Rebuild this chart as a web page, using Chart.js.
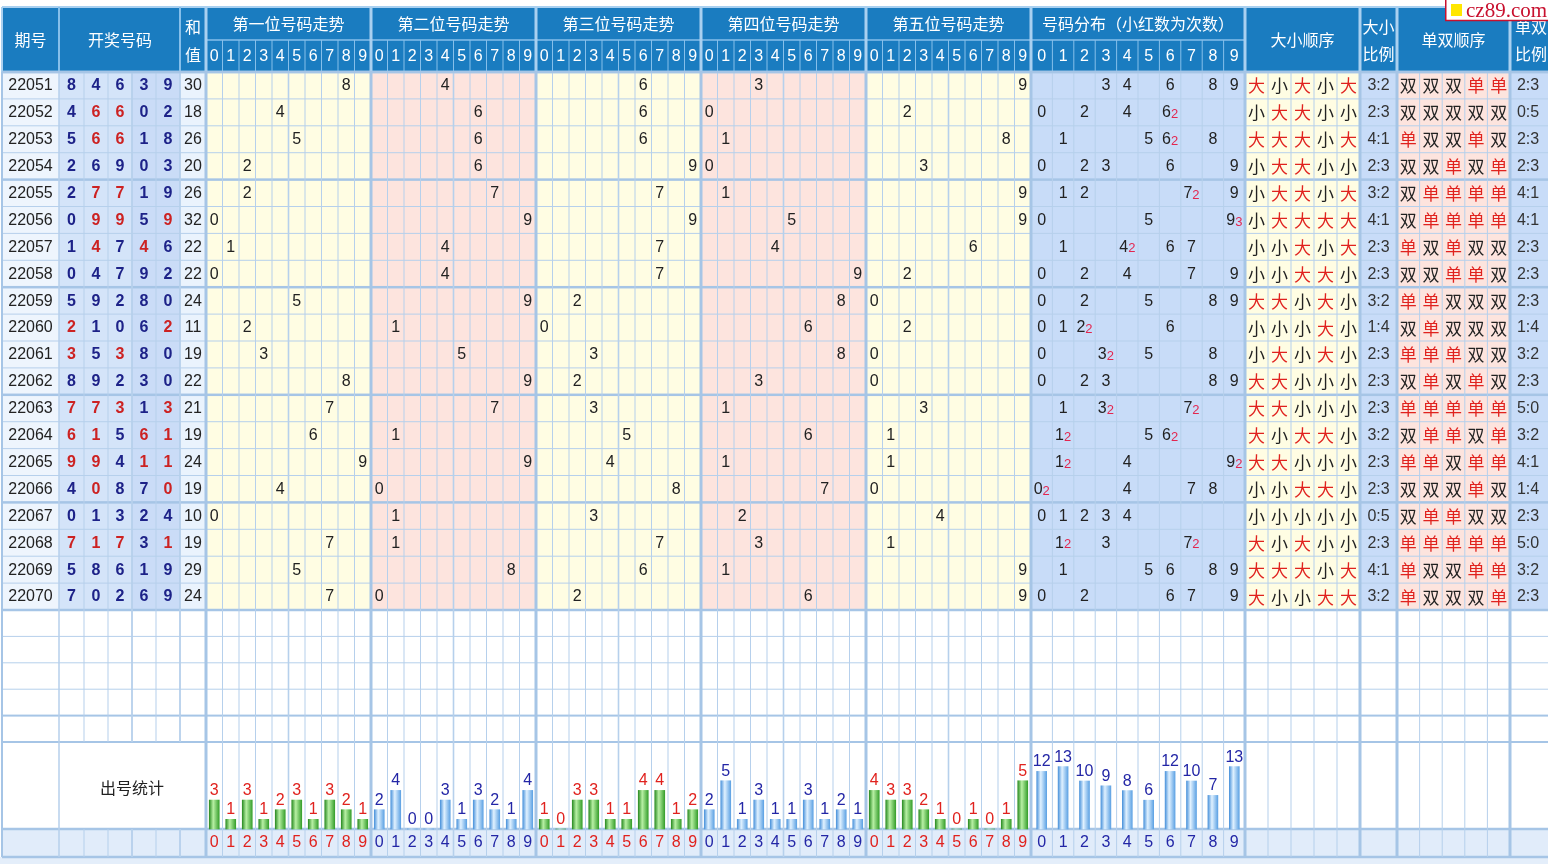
<!DOCTYPE html>
<html lang="zh-CN">
<head>
<meta charset="utf-8">
<title>五位号码走势</title>
<script src="https://cdn.jsdelivr.net/npm/chart.js@4.4.1/dist/chart.umd.min.js"></script>
<style>
  html, body { margin: 0; padding: 0; background: #fff; overflow: hidden; }
  canvas { display: block; }
</style>
</head>
<body>
<canvas id="board" width="1548" height="864"></canvas>
<script>
// draws
const issues = ['22051', '22052', '22053', '22054', '22055', '22056', '22057', '22058', '22059', '22060',
                '22061', '22062', '22063', '22064', '22065', '22066', '22067', '22068', '22069', '22070']
const pos1 = [8, 4, 5, 2, 2, 0, 1, 0, 5, 2, 3, 8, 7, 6, 9, 4, 0, 7, 5, 7]
const pos2 = [4, 6, 6, 6, 7, 9, 4, 4, 9, 1, 5, 9, 7, 1, 9, 0, 1, 1, 8, 0]
const pos3 = [6, 6, 6, 9, 7, 9, 7, 7, 2, 0, 3, 2, 3, 5, 4, 8, 3, 7, 6, 2]
const pos4 = [3, 0, 1, 0, 1, 5, 4, 9, 8, 6, 8, 3, 1, 6, 1, 7, 2, 3, 1, 6]
const pos5 = [9, 2, 8, 3, 9, 9, 6, 2, 0, 2, 0, 0, 3, 1, 1, 0, 4, 1, 9, 9]
const sums = [30, 18, 26, 20, 26, 32, 22, 22, 24, 11, 19, 22, 21, 19, 24, 19, 10, 19, 29, 24]

// 出号统计 row
const cnt1 = [3, 1, 3, 1, 2, 3, 1, 3, 2, 1]
const cnt2 = [2, 4, 0, 0, 3, 1, 3, 2, 1, 4]
const cnt3 = [1, 0, 3, 3, 1, 1, 4, 4, 1, 2]
const cnt4 = [2, 5, 1, 3, 1, 1, 3, 1, 2, 1]
const cnt5 = [4, 3, 3, 2, 1, 0, 1, 0, 1, 5]
const cntAll = [12, 13, 10, 9, 8, 6, 12, 10, 7, 13]

const digitLabels = ['0', '1', '2', '3', '4', '5', '6', '7', '8', '9']
const trendTitles = ['第一位号码走势', '第二位号码走势', '第三位号码走势', '第四位号码走势', '第五位号码走势']

const positions = [pos1, pos2, pos3, pos4, pos5]
const posCounts = [cnt1, cnt2, cnt3, cnt4, cnt5]

// layout, in reference pixels (mapped through the chart's x / y scales)
const W = 1548, H = 864
const TOP = 7, HEAD_MID = 40, BODY_TOP = 72, ROW_H = 26.9, EMPTY_H = 26.4
const BODY_BOTTOM = BODY_TOP + issues.length * ROW_H
const STAT_TOP = BODY_BOTTOM + 5 * EMPTY_H
const STAT_BASE = 829, FOOT_BOTTOM = 857
const NUM_X = [59, 84, 108, 132, 156, 180]
const TREND_X0 = 206, BLOCK_W = 165, CELL_W = 16.5
const DIST_X0 = 1031, DIST_W = 21.4
const BS_X0 = 1245, BS_W = 23
const BSR_X0 = 1360
const OE_X0 = 1397, OE_W = 22.6
const OER_X0 = 1510
const POS_UNIT = 9.65, DIST_UNIT = 4.8

const trendCenter = (b, d) => TREND_X0 + b * BLOCK_W + (d + 0.5) * CELL_W
const distCenter = d => DIST_X0 + (d + 0.5) * DIST_W

const HEAD = '#1a7cc0'
const HEAD_LINE = '#86bfea'
const HEAD_THICK = '#a9d0f0'
const GRID = '#b6d0ec'
const GRID_THICK = '#a6c5e6'
const YEL = '#fffde3'
const PINK = '#fde4de'
const BLUE_CELL = '#c8dcf8'
const RED = '#e0221e'
const NAVY = '#1d2288'
const STAT_BLUE = '#2326a6'

const NUM_FONT = '16px "Liberation Sans", Arial, sans-serif'
const NUM_BOLD = 'bold 16px "Liberation Sans", Arial, sans-serif'
const SMALL_FONT = '13px "Liberation Sans", Arial, sans-serif'
const CJK_FONT = '16px "Noto Sans CJK SC", sans-serif'
const CJK_CELL = '17px "Noto Sans CJK SC", sans-serif'

function barGradient(green) {
  const flat = green ? '#47a83a' : '#7ab6ea'
  return (c) => {
    const chart = c.chart
    const xs = chart.scales.x
    if (c.type !== 'data' || !xs || !c.raw) return flat
    const cx = xs.getPixelForValue(c.raw.x)
    if (!isFinite(cx)) return flat
    const g = chart.ctx.createLinearGradient(cx - 5, 0, cx + 5, 0)
    if (green) {
      g.addColorStop(0, '#2e8f26')
      g.addColorStop(0.4, '#b8f0a4')
      g.addColorStop(1, '#38a02e')
    } else {
      g.addColorStop(0, '#4e95dc')
      g.addColorStop(0.4, '#e0f1ff')
      g.addColorStop(1, '#5fa3e4')
    }
    return g
  }
}

const tablePlugin = {
  id: 'table',
  beforeDatasetsDraw(chart) {
    const ctx = chart.ctx
    const xs = chart.scales.x, ys = chart.scales.y
    const X = v => xs.getPixelForValue(v)
    const Y = v => ys.getPixelForValue(v)
    const rect = (x0, y0, x1, y1, color) => {
      ctx.fillStyle = color
      ctx.fillRect(X(x0), Y(y0), X(x1) - X(x0), Y(y1) - Y(y0))
    }
    const vline = (x, y0, y1, w, color) => {
      ctx.fillStyle = color
      ctx.fillRect(X(x) - w / 2, Y(y0), w, Y(y1) - Y(y0))
    }
    const hline = (x0, x1, y, w, color) => {
      ctx.fillStyle = color
      ctx.fillRect(X(x0), Y(y) - w / 2, X(x1) - X(x0), w)
    }
    const text = (s, x, y, font, color) => {
      ctx.font = font
      ctx.fillStyle = color
      ctx.textAlign = 'center'
      ctx.textBaseline = 'middle'
      ctx.fillText(s, X(x), Y(y))
    }

    ctx.save()

    // header
    rect(2, TOP, W, BODY_TOP, HEAD)

    // body backgrounds
    rect(2, BODY_TOP, 59, BODY_BOTTOM, '#eef5fd')
    rect(59, BODY_TOP, 132, BODY_BOTTOM, '#d4e4f9')
    rect(132, BODY_TOP, 180, BODY_BOTTOM, '#cadcf7')
    rect(180, BODY_TOP, TREND_X0, BODY_BOTTOM, '#eaf3fd')
    for (let b = 0; b < 5; b++) {
      const x0 = TREND_X0 + b * BLOCK_W
      rect(x0, BODY_TOP, x0 + BLOCK_W, BODY_BOTTOM, b % 2 === 0 ? YEL : PINK)
    }
    rect(DIST_X0, BODY_TOP, BS_X0, BODY_BOTTOM, BLUE_CELL)
    rect(BS_X0, BODY_TOP, BSR_X0, BODY_BOTTOM, YEL)
    rect(BSR_X0, BODY_TOP, OE_X0, BODY_BOTTOM, BLUE_CELL)
    rect(OE_X0, BODY_TOP, OER_X0, BODY_BOTTOM, PINK)
    rect(OER_X0, BODY_TOP, W, BODY_BOTTOM, BLUE_CELL)

    // footer strip
    rect(2, STAT_BASE, W, FOOT_BOTTOM, '#e1ecfa')
    rect(0, FOOT_BOTTOM, W, H, '#e4eefa')

    // body horizontal lines
    for (let i = 0; i <= issues.length; i++) {
      const thick = i % 4 === 0
      hline(2, W, BODY_TOP + i * ROW_H, thick ? 2.5 : 1, thick ? GRID_THICK : GRID)
    }
    for (let k = 1; k <= 5; k++) {
      const thick = k >= 4
      hline(2, W, BODY_BOTTOM + k * EMPTY_H, thick ? 2 : 1, thick ? GRID_THICK : GRID)
    }
    hline(2, W, STAT_BASE, 2.5, GRID_THICK)
    hline(2, W, FOOT_BOTTOM, 2.5, GRID_THICK)

    // body vertical lines
    const yB = BODY_TOP, yE = FOOT_BOTTOM
    vline(2, yB, yE, 2, GRID_THICK)
    vline(59, yB, yE, 1.5, GRID)
    NUM_X.slice(1).forEach(x => {
      const w = x === 132 || x === 180 ? 1.8 : 1
      vline(x, yB, STAT_TOP, w, GRID)
      vline(x, STAT_BASE, yE, w, GRID)
    })
    for (let b = 0; b < 5; b++) {
      const x0 = TREND_X0 + b * BLOCK_W
      for (let d = 1; d < 10; d++) vline(x0 + d * CELL_W, yB, yE, d === 5 ? 1.6 : 1, GRID)
    }
    for (let d = 1; d < 10; d++) vline(DIST_X0 + d * DIST_W, yB, yE, 1, GRID)
    for (let d = 1; d < 5; d++) vline(BS_X0 + d * BS_W, yB, yE, 1, GRID)
    for (let d = 1; d < 5; d++) vline(OE_X0 + d * OE_W, yB, yE, 1, GRID)
    const majors = [TREND_X0, TREND_X0 + BLOCK_W, TREND_X0 + 2 * BLOCK_W, TREND_X0 + 3 * BLOCK_W,
                    TREND_X0 + 4 * BLOCK_W, DIST_X0, BS_X0, BSR_X0, OE_X0, OER_X0]
    majors.forEach(x => vline(x, yB, yE, 3, GRID_THICK))

    // header lines
    hline(2, W, TOP, 2, HEAD_THICK)
    vline(2, TOP, BODY_TOP, 2, HEAD_THICK)
    hline(TREND_X0, BS_X0, HEAD_MID, 1.5, HEAD_LINE)
    vline(59, TOP, BODY_TOP, 2, HEAD_LINE)
    vline(180, TOP, BODY_TOP, 2, HEAD_LINE)
    for (let b = 0; b < 5; b++) {
      for (let d = 1; d < 10; d++) vline(TREND_X0 + b * BLOCK_W + d * CELL_W, HEAD_MID, BODY_TOP, 1, HEAD_LINE)
    }
    for (let d = 1; d < 10; d++) vline(DIST_X0 + d * DIST_W, HEAD_MID, BODY_TOP, 1, HEAD_LINE)
    majors.forEach(x => vline(x, TOP, BODY_TOP, 3, HEAD_THICK))
    hline(2, W, BODY_TOP, 2.5, GRID_THICK)

    // header text
    text('期号', 30.5, HEAD_MID, CJK_FONT, '#fff')
    text('开奖号码', 120, HEAD_MID, CJK_FONT, '#fff')
    text('和', 193, 27, CJK_FONT, '#fff')
    text('值', 193, 55, CJK_FONT, '#fff')
    trendTitles.forEach((t, b) => {
      text(t, TREND_X0 + (b + 0.5) * BLOCK_W, 24, CJK_FONT, '#fff')
      digitLabels.forEach((s, d) => text(s, trendCenter(b, d), 57, NUM_FONT, '#fff'))
    })
    text('号码分布（小红数为次数）', (DIST_X0 + BS_X0) / 2, 24, CJK_FONT, '#fff')
    digitLabels.forEach((s, d) => text(s, distCenter(d), 57, NUM_FONT, '#fff'))
    text('大小顺序', (BS_X0 + BSR_X0) / 2, HEAD_MID, CJK_FONT, '#fff')
    text('大小', (BSR_X0 + OE_X0) / 2, 27, CJK_FONT, '#fff')
    text('比例', (BSR_X0 + OE_X0) / 2, 54, CJK_FONT, '#fff')
    text('单双顺序', (OE_X0 + OER_X0) / 2, HEAD_MID, CJK_FONT, '#fff')
    text('单双', 1531, 27, CJK_FONT, '#fff')
    text('比例', 1531, 54, CJK_FONT, '#fff')

    // rows
    issues.forEach((issue, i) => {
      const yc = BODY_TOP + (i + 0.5) * ROW_H + 0.5
      const draw = positions.map(p => p[i])
      const counts = Array(10).fill(0)
      draw.forEach(v => counts[v]++)

      text(issue, 30.5, yc, NUM_FONT, '#222')
      draw.forEach((v, k) => {
        const x = (NUM_X[k] + NUM_X[k + 1]) / 2
        text(String(v), x, yc, NUM_BOLD, counts[v] > 1 ? '#cc2222' : NAVY)
      })
      text(String(sums[i]), 193, yc, NUM_FONT, '#222')

      draw.forEach((v, b) => text(String(v), trendCenter(b, v), yc, NUM_FONT, '#222'))

      counts.forEach((n, d) => {
        if (!n) return
        ctx.textBaseline = 'middle'
        ctx.textAlign = 'left'
        ctx.font = NUM_FONT
        const w1 = ctx.measureText(String(d)).width
        let w2 = 0
        if (n > 1) {
          ctx.font = SMALL_FONT
          w2 = ctx.measureText(String(n)).width
        }
        const left = X(distCenter(d)) - (w1 + w2) / 2
        ctx.font = NUM_FONT
        ctx.fillStyle = '#222'
        ctx.fillText(String(d), left, Y(yc))
        if (n > 1) {
          ctx.font = SMALL_FONT
          ctx.fillStyle = '#e3264f'
          ctx.fillText(String(n), left + w1, Y(yc + 1.5))
        }
      })

      let big = 0, odd = 0
      draw.forEach((v, k) => {
        const isBig = v >= 5, isOdd = v % 2 === 1
        if (isBig) big++
        if (isOdd) odd++
        text(isBig ? '大' : '小', BS_X0 + (k + 0.5) * BS_W, yc, CJK_CELL, isBig ? RED : '#222')
        text(isOdd ? '单' : '双', OE_X0 + (k + 0.5) * OE_W, yc, CJK_CELL, isOdd ? RED : '#222')
      })
      text(big + ':' + (5 - big), (BSR_X0 + OE_X0) / 2, yc, NUM_FONT, '#333')
      text(odd + ':' + (5 - odd), 1528, yc, NUM_FONT, '#333')
    })

    // stats row and footer digits
    text('出号统计', 132, 788, CJK_FONT, '#222')
    const footY = (STAT_BASE + FOOT_BOTTOM) / 2
    for (let b = 0; b < 5; b++) {
      digitLabels.forEach((s, d) => text(s, trendCenter(b, d), footY, NUM_FONT, b % 2 === 0 ? RED : STAT_BLUE))
    }
    digitLabels.forEach((s, d) => text(s, distCenter(d), footY, NUM_FONT, STAT_BLUE))

    ctx.restore()
  },
  afterDatasetsDraw(chart) {
    const ctx = chart.ctx
    ctx.save()
    ctx.font = NUM_FONT
    ctx.textAlign = 'center'
    ctx.textBaseline = 'alphabetic'
    chart.data.datasets.forEach((ds, i) => {
      const meta = chart.getDatasetMeta(i)
      meta.data.forEach((el, j) => {
        ctx.fillStyle = ds.labelColor
        ctx.fillText(String(ds.data[j].y), el.x, el.y - 5)
      })
    })
    ctx.restore()
  },
  afterDraw(chart) {
    const ctx = chart.ctx
    const X = v => chart.scales.x.getPixelForValue(v)
    const Y = v => chart.scales.y.getPixelForValue(v)
    ctx.save()
    ctx.fillStyle = '#fff'
    ctx.fillRect(X(1445), Y(0), X(W) - X(1445), Y(21) - Y(0))
    ctx.strokeStyle = '#c8102e'
    ctx.lineWidth = 1.5
    ctx.strokeRect(X(1445) + 0.75, Y(0) - 1, X(W) - X(1445), Y(21) - Y(0) + 0.5)
    ctx.fillStyle = '#ffe600'
    ctx.fillRect(X(1451), Y(4), 11, 12)
    ctx.fillStyle = '#c8102e'
    ctx.font = '21px "Liberation Serif", "Times New Roman", serif'
    ctx.textAlign = 'left'
    ctx.textBaseline = 'alphabetic'
    ctx.fillText('cz89.com', X(1466), Y(17))
    ctx.restore()
  }
}

const datasets = posCounts.map((cnt, b) => ({
  label: trendTitles[b],
  data: cnt.map((v, d) => ({ x: trendCenter(b, d), y: v })),
  yAxisID: 'yPos',
  backgroundColor: barGradient(b % 2 === 0),
  labelColor: b % 2 === 0 ? RED : STAT_BLUE,
  barThickness: 10,
  grouped: false,
  borderWidth: 0
}))
datasets.push({
  label: '号码分布',
  data: cntAll.map((v, d) => ({ x: distCenter(d), y: v })),
  yAxisID: 'yDist',
  backgroundColor: barGradient(false),
  labelColor: STAT_BLUE,
  barThickness: 10,
  grouped: false,
  borderWidth: 0
})

function build() {
  new Chart(document.getElementById('board'), {
    type: 'bar',
    data: { datasets },
    plugins: [tablePlugin],
    options: {
      responsive: false,
      animation: false,
      events: [],
      layout: { padding: 0 },
      plugins: {
        legend: { display: false },
        tooltip: { enabled: false }
      },
      scales: {
        x: { type: 'linear', min: 0, max: W, offset: false, display: false },
        y: { type: 'linear', min: 0, max: H, reverse: true, display: false },
        yPos: { type: 'linear', min: -(H - STAT_BASE) / POS_UNIT, max: STAT_BASE / POS_UNIT, display: false },
        yDist: { type: 'linear', min: -(H - STAT_BASE) / DIST_UNIT, max: STAT_BASE / DIST_UNIT, display: false }
      }
    }
  })
}

if (document.fonts && document.fonts.load) {
  Promise.all([
    document.fonts.load('16px "Noto Sans CJK SC"', '期号大小单双'),
    document.fonts.load('16px "Liberation Sans"', '0123'),
    document.fonts.load('21px "Liberation Serif"', 'cz89')
  ]).then(build, build)
} else {
  build()
}
</script>
</body>
</html>
